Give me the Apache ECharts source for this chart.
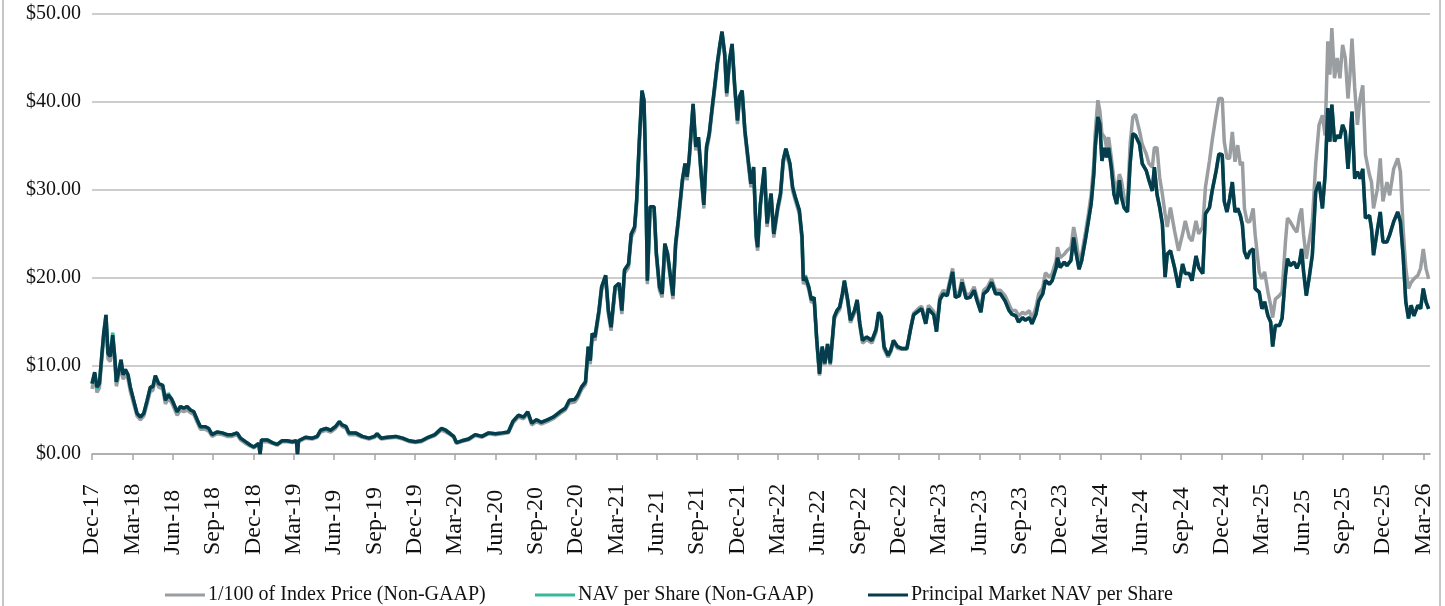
<!DOCTYPE html>
<html>
<head>
<meta charset="utf-8">
<script src="https://cdn.jsdelivr.net/npm/echarts@6/dist/echarts.min.js"></script>
<style>
html, body { margin: 0; padding: 0; background: #fff; }
#chart { width: 1445px; height: 606px; }
</style>
</head>
<body>
<div id="chart"></div>
<script>
// x position of each reading, in months since Dec-17
const monthOffsets = [
  0, 0.2, 0.37, 0.55, 0.7, 0.87, 1.04, 1.19, 1.36, 1.54,
  1.69, 1.81, 1.99, 2.16, 2.31, 2.48, 2.68, 2.85, 3.1, 3.35,
  3.6, 3.85, 4.1, 4.34, 4.52, 4.71, 4.96, 5.26, 5.46, 5.66,
  5.9, 6.08, 6.33, 6.58, 6.82, 7.07, 7.32, 7.57, 7.82, 8.06,
  8.44, 8.68, 8.93, 9.3, 9.68, 10.05, 10.42, 10.79, 11.04, 11.41,
  11.79, 12.03, 12.4, 12.5, 12.6, 13.03, 13.4, 13.77, 14.14, 14.52,
  14.89, 15.2, 15.28, 15.36, 15.88, 16.38, 16.75, 17.0, 17.4, 17.75,
  18.1, 18.4, 18.6, 18.9, 19.1, 19.6, 20.1, 20.6, 21.0, 21.2,
  21.5, 21.95, 22.6, 23.1, 23.6, 24.05, 24.5, 25.0, 25.5, 25.98,
  26.3, 26.65, 26.9, 27.1, 27.5, 28.0, 28.5, 29.0, 29.5, 30.0,
  30.5, 30.96, 31.3, 31.7, 32.1, 32.4, 32.7, 33.06, 33.4, 33.9,
  34.3, 34.8, 35.2, 35.5, 35.9, 36.1, 36.4, 36.7, 36.9, 37.05,
  37.2, 37.4, 37.7, 37.9, 38.2, 38.4, 38.6, 38.9, 39.2, 39.4,
  39.6, 39.9, 40.1, 40.35, 40.5, 40.7, 40.9, 41.05, 41.15, 41.3,
  41.5, 41.8, 41.97, 42.2, 42.4, 42.6, 42.8, 43.2, 43.4, 43.6,
  43.9, 44.1, 44.25, 44.4, 44.7, 44.9, 45.1, 45.3, 45.5, 45.7,
  45.9, 46.1, 46.3, 46.5, 46.7, 46.85, 47.05, 47.2, 47.4, 47.6,
  47.8, 48.0, 48.15, 48.35, 48.55, 48.8, 49.0, 49.2, 49.4, 49.5,
  49.7, 50.0, 50.2, 50.5, 50.7, 51.0, 51.2, 51.4, 51.6, 51.9,
  52.1, 52.3, 52.6, 52.8, 52.9, 53.05, 53.3, 53.5, 53.7, 53.9,
  54.1, 54.3, 54.5, 54.7, 54.9, 55.2, 55.4, 55.6, 55.8, 55.95,
  56.2, 56.4, 56.7, 56.9, 57.1, 57.3, 57.6, 58.0, 58.3, 58.5,
  58.7, 58.9, 59.2, 59.4, 59.6, 59.9, 60.2, 60.6, 60.9, 61.1,
  61.5, 61.7, 62.0, 62.2, 62.6, 62.8, 63.05, 63.3, 63.6, 63.8,
  64.0, 64.2, 64.5, 64.7, 65.0, 65.3, 65.6, 65.8, 66.1, 66.3,
  66.6, 66.9, 67.2, 67.56, 67.9, 68.2, 68.4, 68.7, 68.9, 69.2,
  69.4, 69.7, 69.9, 70.2, 70.4, 70.7, 70.9, 71.2, 71.4, 71.7,
  71.8, 72.0, 72.3, 72.5, 72.8, 73.0, 73.15, 73.4, 73.6, 73.9,
  74.1, 74.3, 74.5, 74.6, 74.8, 74.95, 75.1, 75.3, 75.45, 75.6,
  75.8, 76.0, 76.2, 76.4, 76.55, 76.75, 77.0, 77.2, 77.4, 77.6,
  77.9, 78.1, 78.4, 78.6, 78.85, 79.0, 79.2, 79.4, 79.6, 79.8,
  79.96, 80.2, 80.5, 80.8, 81.1, 81.3, 81.6, 81.8, 82.1, 82.3,
  82.6, 82.8, 83.1, 83.3, 83.6, 83.8, 84.05, 84.2, 84.4, 84.6,
  84.8, 85.0, 85.2, 85.4, 85.55, 85.7, 85.9, 86.1, 86.35, 86.5,
  86.8, 87.0, 87.2, 87.45, 87.65, 87.8, 88.0, 88.3, 88.5, 88.75,
  88.9, 89.1, 89.4, 89.6, 89.8, 89.95, 90.1, 90.3, 90.5, 90.75,
  91.0, 91.25, 91.5, 91.7, 91.9, 92.05, 92.2, 92.4, 92.6, 92.8,
  93.0, 93.2, 93.4, 93.55, 93.7, 93.9, 94.1, 94.3, 94.5, 94.7,
  95.0, 95.15, 95.3, 95.6, 95.8, 96.0, 96.3, 96.5, 96.8, 97.1,
  97.3, 97.5, 97.7, 97.9, 98.1, 98.3, 98.6, 98.8, 99.0, 99.2,
  99.4
];

const indexPrice = [
  7.4, 8.8, 7.0, 7.5, 10.2, 13.2, 15.2, 10.8, 10.5, 13.0,
  10.6, 7.7, 8.9, 10.2, 8.5, 9.1, 8.5, 7.1, 5.7, 4.3,
  3.9, 4.3, 5.7, 7.2, 7.2, 8.5, 7.6, 7.4, 5.7, 6.3,
  5.9, 5.3, 4.4, 5.0, 4.8, 5.0, 4.7, 4.5, 3.6, 2.8,
  2.8, 2.6, 2.0, 2.3, 2.2, 2.0, 2.0, 2.2, 1.6, 1.2,
  0.9, 0.7, 1.1, 0.0, 1.4, 1.4, 1.2, 1.0, 1.4, 1.4,
  1.3, 1.4, 0.0, 1.4, 1.8, 1.7, 1.9, 2.5, 2.7, 2.5,
  2.9, 3.5, 3.1, 2.9, 2.2, 2.2, 1.9, 1.7, 1.9, 2.1,
  1.7, 1.8, 1.9, 1.7, 1.4, 1.3, 1.4, 1.8, 2.1, 2.7,
  2.5, 2.2, 1.9, 1.2, 1.4, 1.6, 2.1, 1.9, 2.3, 2.2,
  2.3, 2.4, 3.5, 4.2, 4.0, 4.6, 3.3, 3.7, 3.4, 3.7,
  4.0, 4.6, 5.0, 5.8, 5.9, 6.3, 7.3, 7.9, 11.8, 10.2,
  13.3, 12.9, 15.9, 18.6, 19.9, 15.9, 14.0, 18.6, 19.0, 15.9,
  20.5, 21.2, 24.6, 25.4, 28.4, 35.2, 40.9, 39.8, 33.7, 19.3,
  27.7, 27.7, 22.4, 18.6, 17.8, 23.5, 22.4, 17.6, 23.5, 26.2,
  30.7, 32.6, 31.1, 33.0, 39.4, 34.5, 35.6, 31.5, 27.9, 34.5,
  36.0, 38.7, 41.3, 44.0, 46.2, 47.6, 45.1, 40.6, 44.3, 46.2,
  41.3, 37.5, 40.2, 40.9, 36.4, 33.0, 30.3, 32.2, 24.3, 23.1,
  28.0, 32.2, 25.8, 29.2, 24.6, 27.7, 29.2, 33.0, 34.3, 32.6,
  29.9, 28.8, 27.3, 24.3, 19.3, 19.8, 18.7, 17.2, 17.5, 12.6,
  8.9, 11.9, 10.1, 12.2, 10.1, 15.3, 16.0, 16.4, 17.9, 19.4,
  17.2, 14.9, 16.0, 17.2, 14.5, 12.6, 13.0, 12.6, 13.8, 15.8,
  15.3, 11.9, 11.0, 11.6, 12.7, 12.0, 11.9, 11.9, 14.5, 16.0,
  16.6, 16.8, 15.1, 16.9, 16.2, 14.2, 17.9, 18.6, 18.4, 19.8,
  21.1, 18.2, 18.4, 19.9, 18.1, 18.2, 19.0, 17.9, 16.5, 18.6,
  19.0, 19.9, 18.6, 18.6, 18.0, 17.0, 16.3, 16.3, 15.7, 16.1,
  15.9, 16.3, 15.3, 16.7, 18.2, 18.9, 20.6, 20.1, 20.5, 22.0,
  23.5, 22.3, 22.7, 23.1, 23.5, 25.8, 24.6, 22.0, 22.7, 25.4,
  27.3, 29.5, 33.0, 36.4, 40.2, 39.0, 36.4, 36.0, 34.8, 36.0,
  33.7, 31.1, 29.9, 31.8, 31.1, 29.2, 28.4, 35.2, 38.3, 38.6,
  36.7, 35.2, 34.1, 33.0, 32.6, 34.8, 34.8, 31.4, 29.5, 27.3,
  25.8, 28.0, 25.4, 23.1, 25.0, 26.5, 24.6, 24.2, 26.5, 25.0,
  25.8, 30.3, 33.3, 35.6, 38.6, 40.4, 40.4, 35.5, 33.6, 33.6,
  36.6, 33.2, 35.1, 32.8, 33.2, 27.9, 26.4, 26.4, 27.9, 24.9,
  20.7, 19.9, 20.7, 18.4, 16.9, 15.5, 17.6, 18.0, 18.4, 24.1,
  26.8, 26.4, 25.6, 25.2, 27.1, 27.9, 24.9, 22.2, 24.1, 26.4,
  33.0, 37.4, 38.5, 36.2, 46.9, 43.1, 48.4, 42.7, 45.0, 42.7,
  46.5, 45.0, 40.4, 43.1, 47.2, 41.6, 37.4, 40.4, 41.9, 34.0,
  31.7, 30.9, 27.9, 30.2, 33.6, 28.7, 30.9, 29.4, 32.4, 33.6,
  32.1, 25.6, 21.1, 18.8, 19.5, 19.9, 20.3, 21.1, 23.3, 21.1,
  19.9
];

const navPerShare = [
  8.0, 9.2, 7.4, 8.0, 10.7, 13.7, 15.8, 11.4, 11.1, 13.8,
  11.1, 8.2, 9.4, 10.7, 9.0, 9.6, 9.0, 7.6, 6.1, 4.6,
  4.2, 4.6, 6.1, 7.6, 7.6, 8.9, 8.0, 7.8, 6.1, 6.9,
  6.3, 5.7, 4.8, 5.4, 5.2, 5.4, 5.0, 4.8, 3.9, 3.1,
  3.1, 2.9, 2.2, 2.5, 2.4, 2.2, 2.2, 2.4, 1.8, 1.4,
  1.0, 0.8, 1.2, 0.0, 1.6, 1.6, 1.3, 1.1, 1.5, 1.5,
  1.4, 1.5, 0.0, 1.5, 1.9, 1.8, 2.0, 2.7, 2.9, 2.7,
  3.1, 3.7, 3.3, 3.1, 2.4, 2.4, 2.0, 1.8, 2.0, 2.3,
  1.8, 1.9, 2.0, 1.8, 1.5, 1.4, 1.5, 1.9, 2.2, 2.9,
  2.7, 2.3, 2.0, 1.3, 1.5, 1.7, 2.2, 2.0, 2.4, 2.3,
  2.4, 2.5, 3.7, 4.4, 4.2, 4.8, 3.5, 3.9, 3.6, 3.9,
  4.2, 4.8, 5.2, 6.1, 6.2, 6.6, 7.6, 8.2, 12.2, 10.6,
  13.7, 13.3, 16.3, 19.0, 20.3, 16.3, 14.4, 19.0, 19.4, 16.3,
  20.9, 21.6, 25.0, 25.8, 28.8, 35.6, 41.3, 40.2, 34.1, 19.7,
  28.1, 28.1, 22.8, 19.0, 18.2, 23.9, 22.8, 18.0, 23.9, 26.6,
  31.1, 33.0, 31.5, 33.4, 39.8, 34.9, 36.0, 31.9, 28.3, 34.9,
  36.4, 39.1, 41.7, 44.4, 46.6, 48.0, 45.5, 41.0, 44.7, 46.6,
  41.7, 37.9, 40.6, 41.3, 36.8, 33.4, 30.7, 32.6, 24.7, 23.5,
  28.4, 32.6, 26.2, 29.6, 25.0, 28.1, 29.6, 33.4, 34.7, 33.0,
  30.3, 29.2, 27.7, 24.7, 19.9, 20.3, 19.0, 17.5, 17.8, 12.9,
  9.1, 12.2, 10.3, 12.5, 10.3, 15.6, 16.3, 16.7, 18.2, 19.7,
  17.5, 15.2, 16.3, 17.5, 14.8, 12.9, 13.3, 12.9, 14.1, 16.1,
  15.6, 12.2, 11.2, 11.8, 12.9, 12.2, 12.0, 12.0, 14.4, 15.8,
  16.3, 16.5, 14.8, 16.5, 15.8, 13.9, 17.5, 18.2, 18.0, 19.4,
  20.7, 17.8, 18.0, 19.5, 17.7, 17.8, 18.6, 17.5, 16.1, 18.2,
  18.6, 19.5, 18.2, 18.2, 17.4, 16.3, 15.9, 15.7, 15.0, 15.5,
  15.2, 15.5, 14.8, 15.9, 17.4, 18.2, 19.7, 19.3, 19.7, 21.2,
  22.3, 21.2, 21.8, 21.4, 22.0, 24.6, 23.1, 21.0, 22.0, 24.6,
  26.5, 28.4, 31.8, 34.8, 38.3, 37.5, 33.3, 34.8, 33.7, 34.8,
  32.6, 29.5, 28.4, 31.1, 29.2, 28.0, 27.5, 33.0, 36.4, 36.2,
  35.2, 33.0, 32.2, 31.1, 29.9, 32.6, 29.5, 28.0, 26.1, 20.1,
  22.7, 23.1, 21.2, 18.9, 21.6, 20.5, 20.5, 19.7, 22.5, 21.2,
  20.5, 27.3, 28.0, 29.9, 32.2, 34.1, 34.0, 28.7, 27.5, 29.0,
  30.9, 27.5, 27.9, 27.1, 26.0, 23.0, 22.2, 23.0, 23.3, 18.8,
  18.4, 16.5, 17.3, 15.7, 15.0, 12.2, 14.6, 14.6, 15.4, 20.3,
  22.2, 21.4, 21.8, 21.1, 21.8, 23.3, 20.7, 18.0, 19.9, 22.6,
  29.8, 30.9, 27.9, 31.7, 39.3, 35.5, 39.7, 35.5, 36.2, 35.9,
  37.4, 36.6, 32.4, 35.5, 38.9, 31.3, 32.1, 31.3, 32.4, 26.8,
  27.1, 25.6, 22.6, 25.6, 27.5, 24.1, 24.1, 24.9, 26.4, 27.5,
  26.4, 22.6, 17.3, 15.4, 16.9, 15.7, 16.9, 16.5, 18.8, 17.3,
  16.5
];

const principalNav = [
  8.0, 9.3, 7.6, 8.0, 10.7, 13.7, 15.8, 11.4, 11.1, 13.5,
  11.1, 8.2, 9.4, 10.7, 9.0, 9.6, 9.0, 7.6, 6.1, 4.6,
  4.2, 4.6, 6.1, 7.6, 7.6, 8.9, 8.0, 7.8, 6.1, 6.7,
  6.3, 5.7, 4.8, 5.4, 5.2, 5.4, 5.0, 4.8, 3.9, 3.1,
  3.1, 2.9, 2.2, 2.5, 2.4, 2.2, 2.2, 2.4, 1.8, 1.4,
  1.0, 0.8, 1.2, 0.0, 1.6, 1.6, 1.3, 1.1, 1.5, 1.5,
  1.4, 1.5, 0.0, 1.5, 1.9, 1.8, 2.0, 2.7, 2.9, 2.7,
  3.1, 3.7, 3.3, 3.1, 2.4, 2.4, 2.0, 1.8, 2.0, 2.3,
  1.8, 1.9, 2.0, 1.8, 1.5, 1.4, 1.5, 1.9, 2.2, 2.9,
  2.7, 2.3, 2.0, 1.3, 1.5, 1.7, 2.2, 2.0, 2.4, 2.3,
  2.4, 2.5, 3.7, 4.4, 4.2, 4.8, 3.5, 3.9, 3.6, 3.9,
  4.2, 4.8, 5.2, 6.1, 6.2, 6.6, 7.6, 8.2, 12.2, 10.6,
  13.7, 13.3, 16.3, 19.0, 20.3, 16.3, 14.4, 19.0, 19.4, 16.3,
  20.9, 21.6, 25.0, 25.8, 28.8, 35.6, 41.3, 40.2, 34.1, 19.7,
  28.1, 28.1, 22.8, 19.0, 18.2, 23.9, 22.8, 18.0, 23.9, 26.6,
  31.1, 33.0, 31.5, 33.4, 39.8, 34.9, 36.0, 31.9, 28.3, 34.9,
  36.4, 39.1, 41.7, 44.4, 46.6, 48.0, 45.5, 41.0, 44.7, 46.6,
  41.7, 37.9, 40.6, 41.3, 36.8, 33.4, 30.7, 32.6, 24.7, 23.5,
  28.4, 32.6, 26.2, 29.6, 25.0, 28.1, 29.6, 33.4, 34.7, 33.0,
  30.3, 29.2, 27.7, 24.7, 19.7, 20.1, 19.0, 17.5, 17.8, 12.9,
  9.1, 12.2, 10.3, 12.5, 10.3, 15.6, 16.3, 16.7, 18.2, 19.7,
  17.5, 15.2, 16.3, 17.5, 14.8, 12.9, 13.3, 12.9, 14.1, 16.1,
  15.6, 12.2, 11.2, 11.8, 12.9, 12.2, 12.0, 12.0, 14.4, 15.8,
  16.3, 16.5, 14.8, 16.5, 15.8, 13.9, 17.5, 18.2, 18.0, 19.4,
  20.7, 17.8, 18.0, 19.5, 17.7, 17.8, 18.6, 17.5, 16.1, 18.2,
  18.6, 19.5, 18.2, 18.2, 17.4, 16.3, 15.9, 15.7, 15.0, 15.5,
  15.2, 15.5, 14.8, 15.9, 17.4, 18.2, 19.7, 19.3, 19.7, 21.2,
  22.3, 21.2, 21.8, 21.4, 22.0, 24.6, 23.1, 21.0, 22.0, 24.6,
  26.5, 28.4, 31.8, 34.8, 38.3, 37.5, 33.3, 34.8, 33.7, 34.8,
  32.6, 29.5, 28.4, 31.1, 29.2, 28.0, 27.5, 33.0, 36.4, 36.2,
  35.2, 33.0, 32.2, 31.1, 29.9, 32.6, 29.5, 28.0, 26.1, 20.1,
  22.7, 23.1, 21.2, 18.9, 21.6, 20.5, 20.5, 19.7, 22.5, 21.2,
  20.5, 27.3, 28.0, 29.9, 32.2, 34.1, 34.0, 28.7, 27.5, 29.0,
  30.9, 27.5, 27.9, 27.1, 26.0, 23.0, 22.2, 23.0, 23.3, 18.8,
  18.4, 16.5, 17.3, 15.7, 15.0, 12.2, 14.6, 14.6, 15.4, 20.3,
  22.2, 21.4, 21.8, 21.1, 21.8, 23.3, 20.7, 18.0, 19.9, 22.6,
  29.8, 30.9, 27.9, 31.7, 39.3, 35.5, 39.7, 35.5, 36.2, 35.9,
  37.4, 36.6, 32.4, 35.5, 38.9, 31.3, 32.1, 31.3, 32.4, 26.8,
  27.1, 25.6, 22.6, 25.6, 27.5, 24.1, 24.1, 24.9, 26.4, 27.5,
  26.4, 22.6, 17.3, 15.4, 16.9, 15.7, 16.9, 16.5, 18.8, 17.3,
  16.5
];

const tickLabels = [
  'Dec-17', 'Mar-18', 'Jun-18', 'Sep-18', 'Dec-18', 'Mar-19', 'Jun-19', 'Sep-19', 'Dec-19',
  'Mar-20', 'Jun-20', 'Sep-20', 'Dec-20', 'Mar-21', 'Jun-21', 'Sep-21', 'Dec-21', 'Mar-22',
  'Jun-22', 'Sep-22', 'Dec-22', 'Mar-23', 'Jun-23', 'Sep-23', 'Dec-23', 'Mar-24', 'Jun-24',
  'Sep-24', 'Dec-24', 'Mar-25', 'Jun-25', 'Sep-25', 'Dec-25', 'Mar-26'
];

const seriesNames = [
  '1/100 of Index Price (Non-GAAP)',
  'NAV per Share (Non-GAAP)',
  'Principal Market NAV per Share'
];

const serifFont = '"Liberation Serif", "Times New Roman", serif';
const tickMonths = tickLabels.map((_, i) => i * 3);
const toPoints = values => monthOffsets.map((m, i) => [m, values[i]]);

const chart = echarts.init(document.getElementById('chart'));

const lineSeries = (name, values, color) => ({
    name: name,
    type: 'line',
    data: toPoints(values),
    showSymbol: false,
    symbol: 'none',
    lineStyle: { color: color, width: 3.5 },
    itemStyle: { color: color },
    z: 2
});

// one legend per item so each sits where the original puts it
const legendItem = (name, left) => ({
    data: [name],
    left: left,
    top: 580,
    itemWidth: 40,
    itemHeight: 3,
    icon: 'rect',
    textStyle: {
        color: '#111',
        fontSize: 20,
        fontFamily: serifFont,
        padding: [0, 0, 0, -2]
    }
});

chart.setOption({
    animation: false,
    backgroundColor: '#ffffff',
    grid: {
        left: 92,
        right: 15,
        top: 14,
        bottom: 152,
        containLabel: false
    },
    xAxis: {
        type: 'value',
        min: 0,
        max: 99.5,
        axisLine: { lineStyle: { color: '#a6a6a6', width: 1.5 } },
        axisTick: {
            show: true,
            length: 6,
            customValues: tickMonths,
            lineStyle: { color: '#a6a6a6', width: 1.5 }
        },
        axisLabel: {
            customValues: tickMonths,
            rotate: 90,
            margin: 101,
            align: 'left',
            verticalAlign: 'middle',
            color: '#111',
            fontSize: 24,
            fontFamily: serifFont,
            formatter: value => tickLabels[Math.round(value / 3)]
        },
        splitLine: { show: false }
    },
    yAxis: {
        type: 'value',
        min: 0,
        max: 50,
        interval: 10,
        axisLine: { show: false },
        axisTick: { show: false },
        axisLabel: {
            margin: 11,
            color: '#111',
            fontSize: 20,
            fontFamily: serifFont,
            formatter: value => '$' + value.toFixed(2)
        },
        splitLine: { lineStyle: { color: '#bdbdbd', width: 1.5 } }
    },
    legend: [
        legendItem(seriesNames[0], 160),
        legendItem(seriesNames[1], 530),
        legendItem(seriesNames[2], 863)
    ],
    graphic: [{
        type: 'rect',
        silent: true,
        shape: { x: 3, y: -10, width: 1437, height: 630 },
        style: { fill: 'none', stroke: '#8c8c8c', lineWidth: 1 }
    }],
    series: [
        lineSeries(seriesNames[0], indexPrice, '#9a9ea1'),
        lineSeries(seriesNames[1], navPerShare, '#35b99c'),
        lineSeries(seriesNames[2], principalNav, '#063c4c')
    ]
});
</script>
</body>
</html>
